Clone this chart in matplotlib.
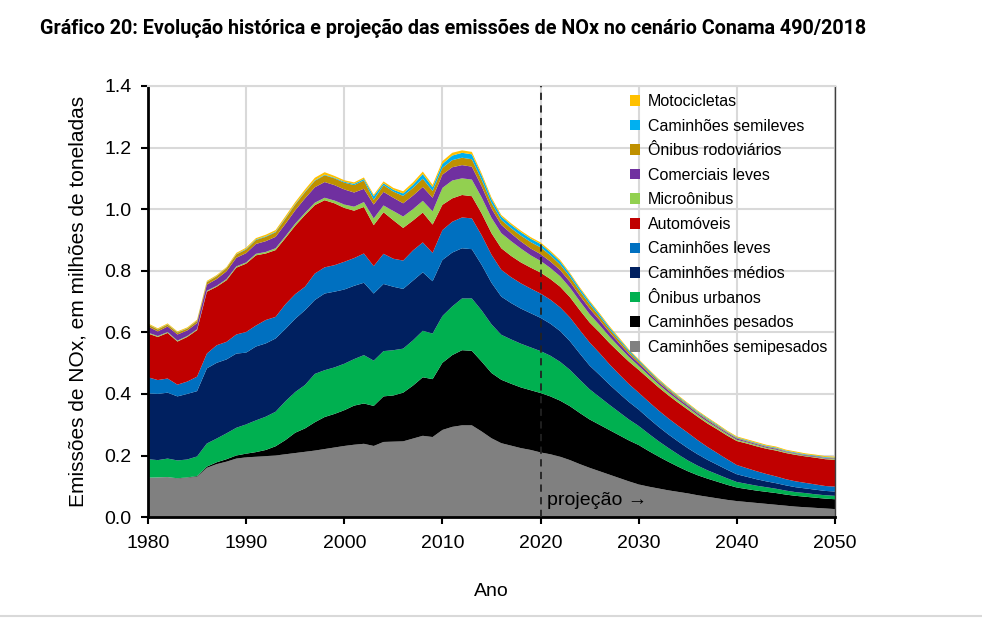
import numpy as np
import matplotlib.pyplot as plt
from matplotlib.patches import Patch
from matplotlib.lines import Line2D

plt.rcParams['font.family'] = ['Liberation Sans', 'DejaVu Sans']

anos = np.arange(1980, 2051)

# emissoes de NOx por categoria (milhoes de t), de baixo para cima
semipesados = [
    0.128, 0.129, 0.130, 0.125, 0.128, 0.131, 0.160, 0.172, 0.180, 0.190,
    0.194, 0.196, 0.198, 0.200, 0.204, 0.208, 0.212, 0.216, 0.221, 0.226,
    0.231, 0.235, 0.238, 0.231, 0.244, 0.245, 0.246, 0.255, 0.264, 0.260,
    0.283, 0.293, 0.298, 0.298, 0.278, 0.256, 0.240, 0.232, 0.224, 0.218,
    0.210, 0.204, 0.196, 0.185, 0.172, 0.160, 0.149, 0.138, 0.127, 0.116,
    0.106, 0.099, 0.093, 0.087, 0.082, 0.077, 0.071, 0.066, 0.061, 0.056,
    0.052, 0.049, 0.046, 0.043, 0.040, 0.037, 0.034, 0.032, 0.030, 0.028,
    0.026]
pesados = [
    0.000, 0.000, 0.000, 0.001, 0.001, 0.002, 0.004, 0.006, 0.008, 0.010,
    0.012, 0.015, 0.020, 0.030, 0.046, 0.066, 0.076, 0.092, 0.104, 0.109,
    0.116, 0.127, 0.131, 0.130, 0.148, 0.150, 0.158, 0.172, 0.190, 0.188,
    0.218, 0.233, 0.244, 0.242, 0.227, 0.212, 0.206, 0.201, 0.197, 0.194,
    0.193, 0.188, 0.182, 0.175, 0.166, 0.157, 0.151, 0.145, 0.139, 0.133,
    0.128, 0.116, 0.104, 0.093, 0.082, 0.072, 0.065, 0.059, 0.054, 0.049,
    0.044, 0.042, 0.040, 0.039, 0.038, 0.036, 0.035, 0.034, 0.033, 0.032,
    0.032]
onibus_urbanos = [
    0.060, 0.056, 0.060, 0.058, 0.058, 0.064, 0.075, 0.077, 0.084, 0.090,
    0.095, 0.103, 0.108, 0.112, 0.126, 0.132, 0.141, 0.157, 0.152, 0.151,
    0.151, 0.151, 0.157, 0.147, 0.147, 0.147, 0.143, 0.147, 0.151, 0.148,
    0.152, 0.158, 0.168, 0.170, 0.166, 0.158, 0.146, 0.144, 0.142, 0.139,
    0.136, 0.132, 0.126, 0.118, 0.108, 0.098, 0.090, 0.082, 0.075, 0.068,
    0.062, 0.056, 0.050, 0.045, 0.040, 0.035, 0.031, 0.027, 0.024, 0.021,
    0.018, 0.017, 0.016, 0.015, 0.014, 0.013, 0.012, 0.012, 0.011, 0.011,
    0.011]
medios = [
    0.214, 0.215, 0.214, 0.208, 0.213, 0.212, 0.244, 0.246, 0.240, 0.241,
    0.233, 0.240, 0.238, 0.238, 0.235, 0.238, 0.243, 0.240, 0.249, 0.246,
    0.241, 0.238, 0.235, 0.218, 0.218, 0.206, 0.194, 0.194, 0.190, 0.170,
    0.182, 0.175, 0.163, 0.160, 0.148, 0.135, 0.124, 0.118, 0.114, 0.111,
    0.108, 0.104, 0.100, 0.093, 0.085, 0.077, 0.072, 0.066, 0.061, 0.057,
    0.053, 0.050, 0.047, 0.044, 0.042, 0.040, 0.037, 0.034, 0.031, 0.028,
    0.025, 0.023, 0.021, 0.019, 0.018, 0.017, 0.016, 0.015, 0.015, 0.014,
    0.014]
leves = [
    0.052, 0.045, 0.046, 0.038, 0.040, 0.047, 0.048, 0.057, 0.057, 0.062,
    0.067, 0.068, 0.076, 0.070, 0.080, 0.080, 0.076, 0.086, 0.085, 0.086,
    0.090, 0.090, 0.095, 0.089, 0.098, 0.091, 0.092, 0.098, 0.097, 0.092,
    0.097, 0.100, 0.100, 0.100, 0.096, 0.091, 0.087, 0.084, 0.082, 0.080,
    0.079, 0.078, 0.077, 0.077, 0.076, 0.075, 0.071, 0.066, 0.062, 0.058,
    0.055, 0.054, 0.053, 0.052, 0.051, 0.050, 0.046, 0.042, 0.038, 0.034,
    0.030, 0.028, 0.026, 0.024, 0.022, 0.020, 0.019, 0.018, 0.017, 0.016,
    0.016]
automoveis = [
    0.142, 0.140, 0.148, 0.140, 0.145, 0.151, 0.201, 0.190, 0.200, 0.217,
    0.222, 0.228, 0.216, 0.217, 0.215, 0.222, 0.233, 0.222, 0.218, 0.201,
    0.175, 0.154, 0.151, 0.133, 0.135, 0.125, 0.106, 0.097, 0.097, 0.092,
    0.082, 0.076, 0.073, 0.072, 0.071, 0.070, 0.070, 0.069, 0.068, 0.068,
    0.068, 0.067, 0.067, 0.066, 0.065, 0.065, 0.067, 0.069, 0.071, 0.073,
    0.074, 0.075, 0.075, 0.075, 0.075, 0.075, 0.076, 0.076, 0.077, 0.077,
    0.078, 0.080, 0.081, 0.082, 0.084, 0.085, 0.086, 0.086, 0.087, 0.087,
    0.087]
microonibus = [
    0.003, 0.003, 0.003, 0.003, 0.003, 0.003, 0.003, 0.003, 0.004, 0.004,
    0.004, 0.005, 0.005, 0.006, 0.006, 0.007, 0.007, 0.008, 0.008, 0.009,
    0.011, 0.013, 0.016, 0.022, 0.022, 0.030, 0.037, 0.037, 0.038, 0.043,
    0.055, 0.058, 0.054, 0.054, 0.052, 0.050, 0.049, 0.048, 0.045, 0.040,
    0.038, 0.036, 0.034, 0.031, 0.029, 0.027, 0.024, 0.021, 0.018, 0.015,
    0.013, 0.011, 0.010, 0.009, 0.008, 0.007, 0.006, 0.006, 0.005, 0.005,
    0.004, 0.004, 0.004, 0.003, 0.003, 0.003, 0.003, 0.002, 0.002, 0.002,
    0.002]
comerciais_leves = [
    0.020, 0.015, 0.018, 0.020, 0.018, 0.020, 0.020, 0.022, 0.025, 0.028,
    0.030, 0.032, 0.035, 0.037, 0.040, 0.043, 0.047, 0.050, 0.051, 0.050,
    0.049, 0.046, 0.043, 0.045, 0.044, 0.043, 0.043, 0.044, 0.045, 0.044,
    0.043, 0.043, 0.043, 0.042, 0.036, 0.030, 0.027, 0.025, 0.023, 0.022,
    0.022, 0.021, 0.020, 0.019, 0.018, 0.018, 0.016, 0.014, 0.012, 0.010,
    0.009, 0.008, 0.007, 0.007, 0.006, 0.006, 0.005, 0.005, 0.004, 0.004,
    0.004, 0.003, 0.003, 0.003, 0.003, 0.002, 0.002, 0.002, 0.002, 0.002,
    0.002]
onibus_rodoviarios = [
    0.006, 0.006, 0.006, 0.006, 0.006, 0.007, 0.008, 0.009, 0.010, 0.011,
    0.012, 0.013, 0.014, 0.015, 0.017, 0.019, 0.020, 0.021, 0.022, 0.022,
    0.022, 0.024, 0.027, 0.015, 0.022, 0.020, 0.024, 0.025, 0.027, 0.022,
    0.022, 0.023, 0.024, 0.024, 0.021, 0.018, 0.016, 0.017, 0.019, 0.021,
    0.022, 0.020, 0.018, 0.016, 0.015, 0.014, 0.012, 0.010, 0.009, 0.007,
    0.006, 0.005, 0.005, 0.004, 0.004, 0.003, 0.003, 0.003, 0.003, 0.002,
    0.002, 0.002, 0.002, 0.002, 0.002, 0.001, 0.001, 0.001, 0.001, 0.001,
    0.001]
semileves = [
    0.001, 0.001, 0.001, 0.001, 0.001, 0.001, 0.001, 0.001, 0.001, 0.001,
    0.002, 0.002, 0.002, 0.002, 0.002, 0.002, 0.002, 0.002, 0.002, 0.002,
    0.003, 0.004, 0.005, 0.012, 0.006, 0.006, 0.008, 0.010, 0.015, 0.012,
    0.013, 0.015, 0.016, 0.016, 0.014, 0.012, 0.011, 0.011, 0.011, 0.011,
    0.011, 0.010, 0.010, 0.009, 0.008, 0.008, 0.007, 0.006, 0.005, 0.005,
    0.004, 0.004, 0.003, 0.003, 0.003, 0.003, 0.003, 0.003, 0.003, 0.002,
    0.002, 0.002, 0.002, 0.002, 0.002, 0.002, 0.002, 0.002, 0.002, 0.002,
    0.002]
motocicletas = [
    0.003, 0.003, 0.003, 0.003, 0.003, 0.003, 0.003, 0.003, 0.003, 0.004,
    0.004, 0.004, 0.005, 0.005, 0.006, 0.006, 0.007, 0.008, 0.008, 0.006,
    0.005, 0.005, 0.005, 0.005, 0.006, 0.006, 0.007, 0.008, 0.008, 0.008,
    0.009, 0.009, 0.008, 0.008, 0.007, 0.006, 0.005, 0.005, 0.005, 0.005,
    0.005, 0.005, 0.005, 0.004, 0.004, 0.004, 0.004, 0.004, 0.004, 0.003,
    0.003, 0.003, 0.003, 0.003, 0.003, 0.003, 0.003, 0.003, 0.003, 0.003,
    0.003, 0.003, 0.003, 0.003, 0.003, 0.003, 0.003, 0.003, 0.003, 0.003,
    0.003]

series = [semipesados, pesados, onibus_urbanos, medios, leves, automoveis,
          microonibus, comerciais_leves, onibus_rodoviarios, semileves, motocicletas]
nomes = ['Caminhões semipesados', 'Caminhões pesados', 'Ônibus urbanos',
         'Caminhões médios', 'Caminhões leves', 'Automóveis', 'Microônibus',
         'Comerciais leves', 'Ônibus rodoviários', 'Caminhões semileves',
         'Motocicletas']
cores = ['#808080', '#000000', '#00B050', '#002060', '#0070C0', '#C00000',
         '#92D050', '#7030A0', '#BF9000', '#00B0F0', '#FFC000']

fig = plt.figure(figsize=(9.82, 6.23), dpi=100)
ax = fig.add_axes([0.1507, 0.170, 0.6996, 0.692])

ax.stackplot(anos, *series, colors=cores, linewidth=0, zorder=2)

ax.set_xlim(1980, 2050)
ax.set_ylim(0, 1.4)
ax.set_xticks(range(1980, 2051, 10))
ax.set_yticks(np.arange(0, 1.41, 0.2))
ax.set_yticklabels(['%.1f' % v for v in np.arange(0, 1.41, 0.2)])
ax.grid(True, color='#d9d9d9', linewidth=1.5, zorder=0)
ax.set_axisbelow(True)
ax.tick_params(labelsize=14, direction='out', length=5, width=1.5)
ax.tick_params(axis='x', pad=8)
ax.tick_params(axis='y', pad=7)

for s in ['left', 'bottom']:
    ax.spines[s].set_linewidth(2)
    ax.spines[s].set_color('black')
ax.spines['right'].set_color('#404040')
ax.spines['right'].set_linewidth(1)
ax.spines['top'].set_color('#d9d9d9')
ax.spines['top'].set_linewidth(1.5)

ax.axvline(2020, color='#222222', linestyle=(0, (4, 3)), linewidth=1.3, zorder=3)
ax.text(2020.7, 0.055, 'projeção →', fontsize=14, va='center', ha='left', zorder=4)

ax.set_xlabel('Ano', fontsize=14, labelpad=22)
ax.set_ylabel('Emissões de NOx, em milhões de toneladas', fontsize=15, labelpad=12)

handles = [Patch(facecolor=c, edgecolor='none') for c in cores[::-1]]
ax.legend(handles, nomes[::-1], loc='upper left', bbox_to_anchor=(0.69, 1.0),
          frameon=False, fontsize=11.5, handlelength=0.65, handleheight=0.65,
          handletextpad=0.45, labelspacing=0.6, borderaxespad=0.1)

fig.text(0.041, 0.955, 'Gráfico 20: Evolução histórica e projeção das emissões de NOx no cenário Conama 490/2018',
         fontsize=14.2, fontweight='bold', va='center', ha='left',
         family=['Roboto', 'DejaVu Sans'], stretch='condensed')

fig.add_artist(Line2D([0, 1], [0.012, 0.012], color='#d9d9d9', linewidth=1.5,
                      transform=fig.transFigure))

fig.savefig('out.png', dpi=100)
